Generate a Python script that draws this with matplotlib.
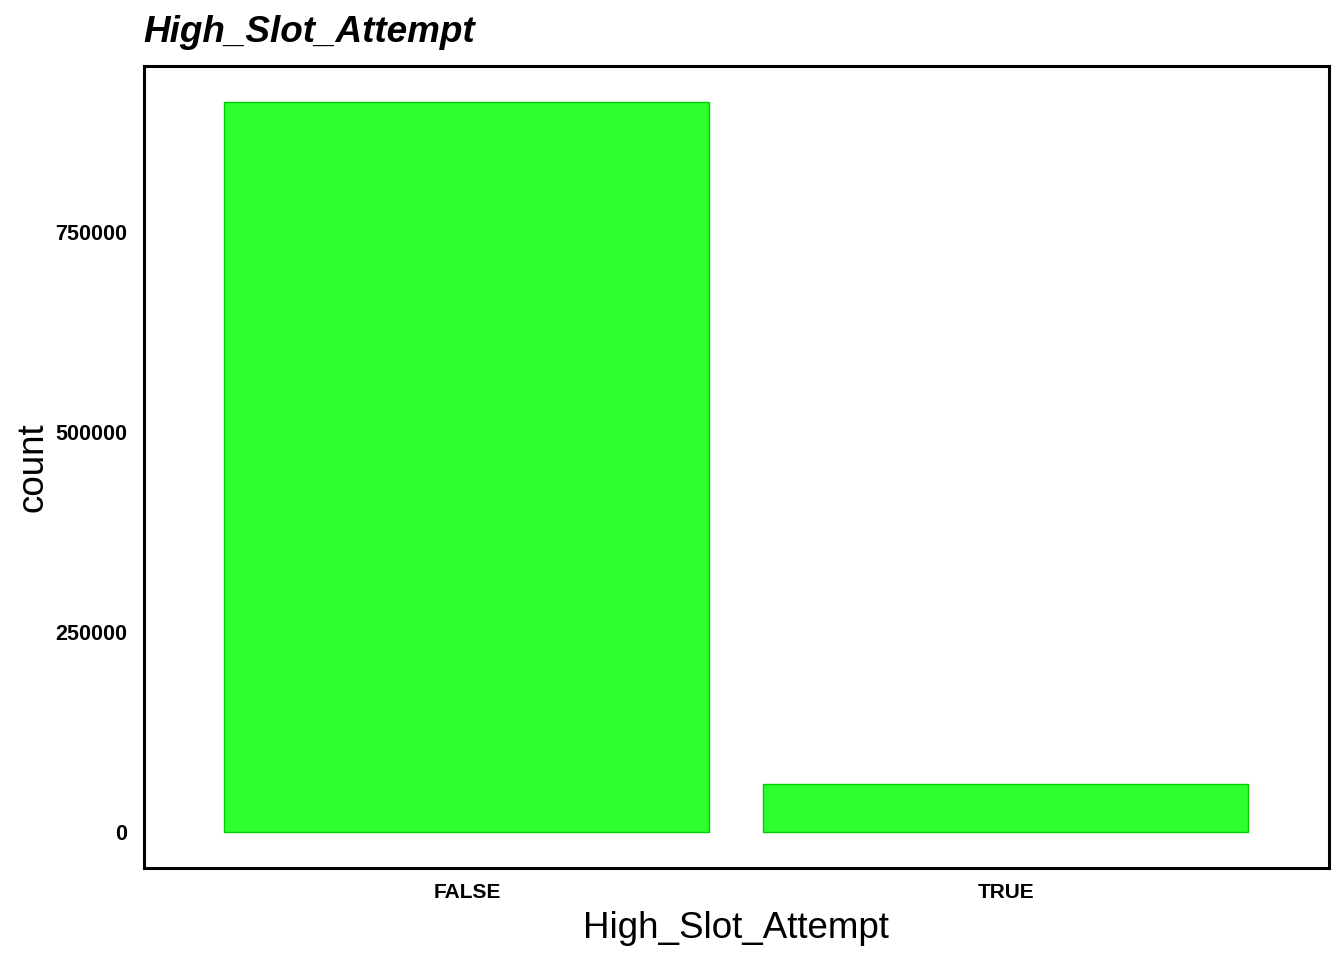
import matplotlib
matplotlib.use("Agg")
import matplotlib.pyplot as plt

categories = ["FALSE", "TRUE"]
counts = [912000, 60000]
yticks = [0, 250000, 500000, 750000]
title = "High_Slot_Attempt"
xlabel = "High_Slot_Attempt"
ylabel = "count"

plt.rcParams['font.family'] = ['Liberation Sans', 'DejaVu Sans']

W, H = 1344, 960
fig = plt.figure(figsize=(W / 100, H / 100), dpi=100)
L, R, T, B = 143.5, 1329, 66, 868
ax = fig.add_axes([L / W, 1 - B / H, (R - L) / W, (B - T) / H])

x = list(range(len(categories)))
ax.bar(x, counts, width=0.9, color="#2EFF2E", edgecolor="#00CC00", linewidth=1.0)

ax.set_xlim(-0.6, len(categories) - 0.4)
m = max(counts)
ax.set_ylim(-0.05 * m, 1.05 * m)
ax.set_xticks(x)
ax.set_xticklabels(categories, fontsize=15, fontweight="bold")
ax.set_yticks(yticks)
ax.set_yticklabels([str(v) for v in yticks], fontsize=15.5, fontweight="bold")
ax.tick_params(axis="both", length=0)
ax.tick_params(axis="y", pad=12)
ax.tick_params(axis="x", pad=11)

for s in ax.spines.values():
    s.set_linewidth(2.2)
    s.set_color("black")

ax.set_xlabel(xlabel, fontsize=26.5)
ax.xaxis.label.set_verticalalignment("baseline")
ax.xaxis.set_label_coords(0.5, (B - 938) / (B - T))

ax.set_ylabel(ylabel, fontsize=26.5)
ax.yaxis.label.set_rotation_mode("anchor")
ax.yaxis.label.set_verticalalignment("baseline")
ax.yaxis.label.set_horizontalalignment("center")
ax.yaxis.set_label_coords((42 - L) / (R - L), 0.5)

fig.text(L / W, 1 - 42 / H, title, fontsize=26.6, fontweight="bold", fontstyle="italic",
         ha="left", va="baseline")

fig.savefig("out.png", dpi=100, facecolor="white")
